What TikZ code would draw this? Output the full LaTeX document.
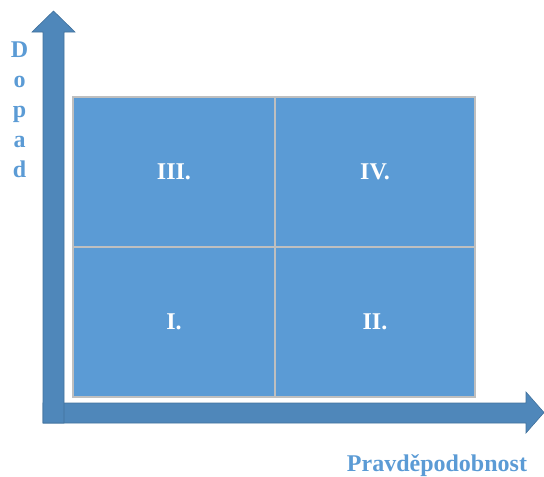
\documentclass[tikz,border=0pt]{standalone}
\usepackage{fontspec}
\setmainfont{Liberation Serif}
\definecolor{cellblue}{HTML}{5B9BD5}
\definecolor{axisblue}{HTML}{4F87BA}
\definecolor{axisedge}{HTML}{41719C}
\definecolor{cellline}{HTML}{BFBFBF}
\definecolor{labelblue}{HTML}{5B9BD5}
\begin{document}
\begin{tikzpicture}[x=1pt,y=-1pt,
  cell/.style={draw=cellline, line width=1.4pt, fill=cellblue, inner sep=0pt},
  celltext/.style={text=white, font=\fontsize{24}{24}\selectfont\bfseries},
  axis/.style={fill=axisblue, draw=axisedge, line width=0.6pt, line join=miter},
  axislabel/.style={text=labelblue, font=\fontsize{24}{24}\selectfont\bfseries, inner sep=0pt}
]
\useasboundingbox (0,0) rectangle (544,477);
% axes
\path[axis] (43,403) -- (526,403) -- (526,392) -- (544,412.5) -- (526,433) -- (526,423) -- (43,423) -- cycle;
\path[axis] (43,423) -- (43,32) -- (32,32) -- (53.5,11) -- (75,32) -- (64,32) -- (64,423) -- cycle;
% cells
\path[cell] (73,97) rectangle (275,247);
\path[cell] (275,97) rectangle (475,247);
\path[cell] (73,247) rectangle (275,397);
\path[cell] (275,247) rectangle (475,397);
\node[celltext] (c3) at (174,172) {III.};
\node[celltext] (c4) at (375,172) {IV.};
\node[celltext] (c1) at (174,322) {I.};
\node[celltext] (c2) at (375,322) {II.};
% axis labels
\node[axislabel, anchor=base] (d1) at (19.5,57) {D};
\node[axislabel, anchor=base] (d2) at (19.5,87) {o};
\node[axislabel, anchor=base] (d3) at (19.5,117) {p};
\node[axislabel, anchor=base] (d4) at (19.5,147) {a};
\node[axislabel, anchor=base] (d5) at (19.5,177) {d};
\node[axislabel, anchor=base] (px) at (437,471) {Pravděpodobnost};
\end{tikzpicture}
\end{document}
